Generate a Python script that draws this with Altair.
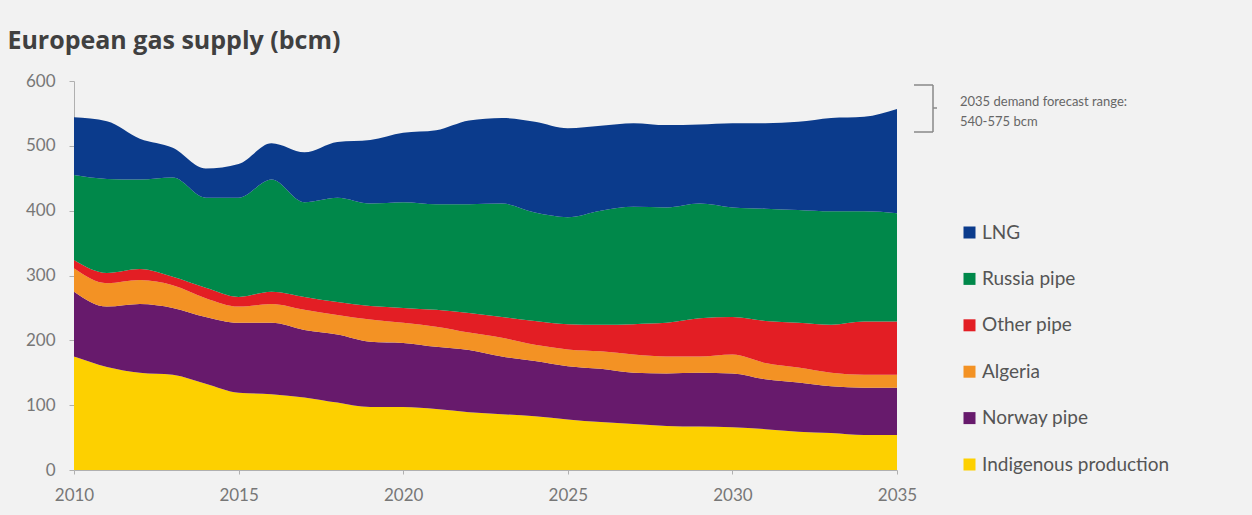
import altair as alt
import pandas as pd

years = list(range(2010, 2036))
series = ["Indigenous production", "Norway pipe", "Algeria", "Other pipe", "Russia pipe", "LNG"]
indigenous = [175,159,150,147,133,119,117,112,104,97,97,94,89,86,83,78,74,71,68,67,66,63,59,57,54,54]
norway =     [100,93,106,103,103,108,110,104,105,101,99,96,96,89,85,82,82,79,81,83,83,77,76,72,73,73]
algeria =    [36,36,37,35,29,25,29,31,30,34,31,31,27,29,25,26,27,28,26,25,29,25,23,21,20,20]
other =      [13,16,17,13,16,15,19,20,20,21,23,26,30,32,37,39,41,47,52,59,58,65,69,74,82,82]
russia =     [131,145,138,153,139,153,173,146,161,158,163,163,168,175,167,165,176,181,178,177,169,173,174,175,170,167]
lng =        [89,89,63,46,45,52,56,77,86,98,107,114,129,132,140,137,131,129,127,122,130,132,136,144,146,161]
colors = ["#fdd000", "#671a6c", "#f39224", "#e31e24", "#00884a", "#0b3b8c"]
x_ticks = [2010, 2015, 2020, 2025, 2030, 2035]
y_ticks = [0, 100, 200, 300, 400, 500, 600]
note_lines = ["2035 demand forecast range:", "540-575 bcm"]

values = [indigenous, norway, algeria, other, russia, lng]
rows = []
for i, (name, vals) in enumerate(zip(series, values)):
    for y, v in zip(years, vals):
        rows.append({"year": y, "source": name, "bcm": v, "rank": i})
df = pd.DataFrame(rows)

legend_order = list(reversed(series))
legend_colors = list(reversed(colors))

W, H = 823, 389

areas = alt.Chart(df).mark_area(interpolate="monotone").encode(
    x=alt.X("year:Q", scale=alt.Scale(domain=[2010, 2035], nice=False, zero=False),
            axis=alt.Axis(values=x_ticks, format="d", title=None, grid=False,
                          labelFontSize=17, labelColor="#777777", labelFont="Lato",
                          domainColor="#b0b0b0", tickColor="#b0b0b0", tickSize=4,
                          labelPadding=13, labelFlush=False)),
    y=alt.Y("bcm:Q", stack="zero", scale=alt.Scale(domain=[0, 600], nice=False),
            axis=alt.Axis(values=y_ticks, title=None, grid=False,
                          labelFontSize=17, labelColor="#777777", labelFont="Lato",
                          domainColor="#b0b0b0", tickColor="#b0b0b0", tickSize=5,
                          labelPadding=14)),
    color=alt.Color("source:N", scale=alt.Scale(domain=legend_order, range=legend_colors),
                    legend=alt.Legend(title=None, orient="none", legendX=886, legendY=142,
                                      symbolType="square", symbolSize=144, symbolStrokeWidth=0,
                                      labelFontSize=19, labelFont="Lato", labelColor="#555555",
                                      rowPadding=26.4, labelOffset=3, labelLimit=400)),
    order=alt.Order("rank:Q", sort="ascending"),
)

one = pd.DataFrame({"k": [0]})
bx = 859
bracket_v = alt.Chart(one).mark_rule(color="#888888", strokeWidth=1.5).encode(
    x=alt.value(bx), y=alt.value(4), y2=alt.value(51))
bracket_t = alt.Chart(one).mark_rule(color="#888888", strokeWidth=1.5).encode(
    x=alt.value(bx - 19), x2=alt.value(bx), y=alt.value(4))
bracket_b = alt.Chart(one).mark_rule(color="#888888", strokeWidth=1.5).encode(
    x=alt.value(bx - 19), x2=alt.value(bx), y=alt.value(51))
bracket_n = alt.Chart(one).mark_rule(color="#888888", strokeWidth=1.5).encode(
    x=alt.value(bx), x2=alt.value(bx + 4), y=alt.value(27))

note1 = alt.Chart(one).mark_text(align="left", baseline="middle", fontSize=13,
                                 font="Lato", color="#666666").encode(
    x=alt.value(886), y=alt.value(21), text=alt.value(note_lines[0]))
note2 = alt.Chart(one).mark_text(align="left", baseline="middle", fontSize=13,
                                 font="Lato", color="#666666").encode(
    x=alt.value(886), y=alt.value(41), text=alt.value(note_lines[1]))

chart = alt.layer(areas, bracket_v, bracket_t, bracket_b, bracket_n, note1, note2).properties(
    width=W, height=H,
    title=alt.TitleParams("European gas supply (bcm)", anchor="start", dx=-18,
                          fontSize=25, font="Open Sans", fontWeight="bold",
                          color="#404040", offset=18),
    background="#f2f2f2",
    autosize=alt.AutoSizeParams(type="none"),
    padding={"left": 74, "top": 81, "right": 1252 - 74 - W, "bottom": 515 - 81 - H},
).configure_view(stroke=None)

chart.save("out.html", embed_options={"renderer": "svg", "actions": False})
